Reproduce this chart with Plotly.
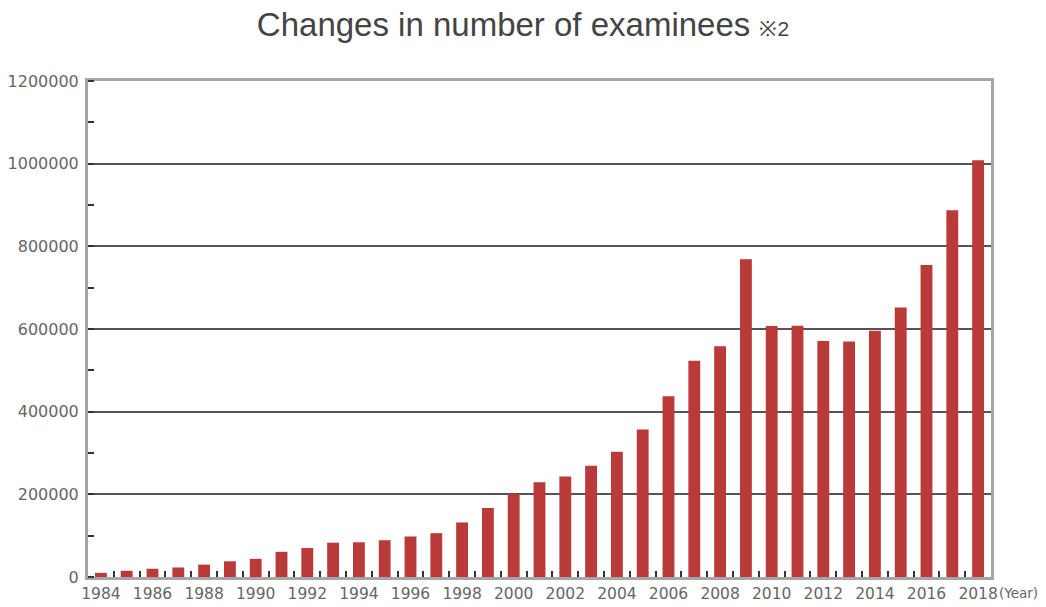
import plotly.graph_objects as go

years = list(range(1984, 2019))
examinees = [10000, 15000, 20000, 23000, 30000, 38000, 44000, 61000, 70000, 83000,
             84000, 89000, 98000, 106000, 132000, 167000, 201000, 229000, 243000, 269000,
             303000, 357000, 437000, 523000, 558000, 769000, 607000, 608000, 571000, 570000,
             596000, 652000, 755000, 887000, 1008000]
year_labels = [str(y) for y in range(1984, 2019, 2)]
y_ticks = [0, 200000, 400000, 600000, 800000, 1000000, 1200000]

fig = go.Figure(go.Bar(x=years, y=examinees, marker_color="#b93a38",
                       marker_line_width=0, width=0.46))

fig.update_layout(
    width=1046, height=607,
    margin=dict(l=88, r=55, t=81, b=30),
    paper_bgcolor="white", plot_bgcolor="white",
    showlegend=False,
    title=dict(text="Changes in number of examinees <span style='font-size:21px'>※2</span>",
               x=0.5, xanchor="center", y=0.96, yanchor="middle",
               font=dict(family="Liberation Sans, Arial, sans-serif", size=33, color="#444")),
)

fig.update_xaxes(
    range=[1983.5, 2018.5], automargin=False,
    tickvals=list(range(1984, 2019, 2)), ticktext=year_labels,
    ticks="inside", ticklen=0,
    minor=dict(tick0=1983.5, dtick=1, ticks="inside", ticklen=6, tickcolor="#333", tickwidth=1.5),
    showline=True, linecolor="#a6a6a6", linewidth=3, mirror=True,
    showgrid=False, zeroline=False,
    tickfont=dict(family="DejaVu Sans, sans-serif", size=15.5, color="#666"),
)

fig.update_yaxes(
    range=[0, 1200000], automargin=False,
    tickvals=y_ticks, ticktext=[str(v) for v in y_ticks],
    ticks="", showgrid=True, gridcolor="#555", gridwidth=1.5,
    minor=dict(tick0=0, dtick=100000, ticks="inside", ticklen=6, tickcolor="#333", tickwidth=1.5),
    showline=True, linecolor="#a6a6a6", linewidth=3, mirror=True,
    zeroline=False, ticklabelstandoff=3,
    tickfont=dict(family="DejaVu Sans, sans-serif", size=16, color="#666"),
)

fig.add_annotation(text="(Year)", xref="paper", yref="paper", x=1.0, y=0,
                   xanchor="left", yanchor="top", xshift=6, yshift=-6, showarrow=False,
                   font=dict(family="DejaVu Sans, sans-serif", size=13.5, color="#666"))

# the page body has a default 8px margin; drop it so the figure sits at the corner
fig.write_html("out.html", config={"displayModeBar": False},
               post_script="document.body.style.margin='0';")
